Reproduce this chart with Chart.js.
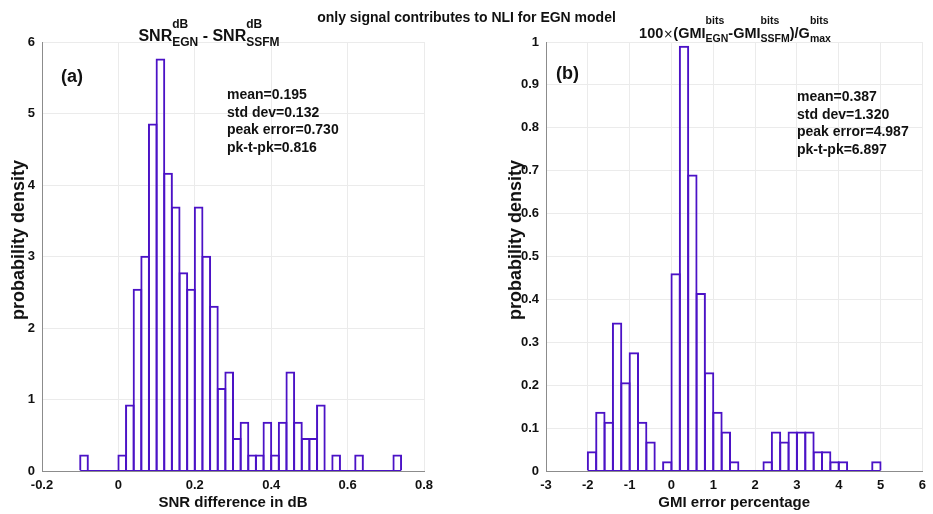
<!DOCTYPE html>
<html>
<head>
<meta charset="utf-8">
<script src="https://cdn.jsdelivr.net/npm/chart.js@4.4.0/dist/chart.umd.min.js"></script>
<style>
html,body{margin:0;padding:0;background:#fff;}
#wrap{position:relative;width:933px;height:514px;overflow:hidden;font-family:"Liberation Sans",Arial,sans-serif;font-weight:bold;color:#111;}
canvas{position:absolute;top:0;}
.t{position:absolute;white-space:nowrap;}
.yl{position:absolute;white-space:nowrap;font-size:18px;line-height:20px;transform:translate(-50%,-50%) rotate(-90deg);}
.st{position:absolute;display:flex;align-items:flex-start;white-space:nowrap;transform:translateX(-50%);}
.m{font-size:16px;line-height:16px;margin-top:10.2px;}
.ss{display:inline-flex;flex-direction:column;font-size:12px;line-height:12px;}
.ss .sb{margin-top:5.7px;}
.r .m{font-size:14.5px;line-height:15px;margin-top:10.5px;}
.r .ss{font-size:10.5px;line-height:11px;}
.r .ss .sb{margin-top:6.5px;}
.x{font-weight:normal;font-family:"DejaVu Sans",sans-serif;font-size:12px;}
.stats{font-size:14px;line-height:17.7px;}
.lab{font-size:18px;line-height:22px;}
</style>
</head>
<body>
<div id="wrap">
  <canvas id="c1" width="470" height="514" style="left:0;width:470px;height:514px"></canvas>
  <canvas id="c2" width="436" height="514" style="left:497px;width:436px;height:514px"></canvas>

  <div class="t" style="left:0;width:933px;top:8px;text-align:center;font-size:14px;line-height:18px;">only signal contributes to NLI for EGN model</div>

  <div class="st" style="left:209px;top:18px;">
    <span class="m">SNR</span><span class="ss"><span>dB</span><span class="sb">EGN</span></span><span class="m">&nbsp;-&nbsp;SNR</span><span class="ss"><span>dB</span><span class="sb">SSFM</span></span>
  </div>
  <div class="st r" style="left:735px;top:15px;">
    <span class="m">100<span class="x">×</span>(GMI</span><span class="ss"><span>bits</span><span class="sb">EGN</span></span><span class="m">-GMI</span><span class="ss"><span>bits</span><span class="sb">SSFM</span></span><span class="m">)/G</span><span class="ss"><span>bits</span><span class="sb">max</span></span>
  </div>

  <div id="yl1" class="yl" style="left:17.5px;top:240px;"></div>
  <div id="yl2" class="yl" style="left:514.5px;top:240px;"></div>

  <div class="t lab" style="left:61px;top:65px;">(a)</div>
  <div class="t lab" style="left:556px;top:62px;">(b)</div>

  <div class="t stats" style="left:227px;top:86px;">mean=0.195<br>std dev=0.132<br>peak error=0.730<br>pk-t-pk=0.816</div>
  <div class="t stats" style="left:797px;top:88px;">mean=0.387<br>std dev=1.320<br>peak error=4.987<br>pk-t-pk=6.897</div>
</div>

<script>
// ---------- data ----------
// left panel: SNR difference histogram, bin centres (dB) and probability density
const snrBinCenters = [-0.09, -0.07, -0.05, -0.03, -0.01, 0.01, 0.03, 0.05, 0.07, 0.09,
  0.11, 0.13, 0.15, 0.17, 0.19, 0.21, 0.23, 0.25, 0.27, 0.29,
  0.31, 0.33, 0.35, 0.37, 0.39, 0.41, 0.43, 0.45, 0.47, 0.49,
  0.51, 0.53, 0.55, 0.57, 0.59, 0.61, 0.63, 0.65, 0.67, 0.69,
  0.71, 0.73];
const snrDensity = [0.23, 0, 0, 0, 0, 0.23, 0.93, 2.55, 3.01, 4.86,
  5.77, 4.17, 3.70, 2.78, 2.55, 3.70, 3.01, 2.31, 1.16, 1.39,
  0.46, 0.69, 0.23, 0.23, 0.69, 0.23, 0.69, 1.39, 0.69, 0.46,
  0.46, 0.93, 0, 0.23, 0, 0, 0.23, 0, 0, 0,
  0, 0.23];
const snrBinWidth = 0.02;

// right panel: GMI error percentage histogram
const gmiBinCenters = [-1.9, -1.7, -1.5, -1.3, -1.1, -0.9, -0.7, -0.5, -0.3, -0.1,
  0.1, 0.3, 0.5, 0.7, 0.9, 1.1, 1.3, 1.5, 1.7, 1.9,
  2.1, 2.3, 2.5, 2.7, 2.9, 3.1, 3.3, 3.5, 3.7, 3.9,
  4.1, 4.3, 4.5, 4.7, 4.9];
const gmiDensity = [0.046, 0.138, 0.115, 0.346, 0.207, 0.277, 0.115, 0.069, 0, 0.023,
  0.461, 0.991, 0.691, 0.415, 0.230, 0.138, 0.092, 0.023, 0, 0,
  0, 0.023, 0.092, 0.069, 0.092, 0.092, 0.092, 0.046, 0.046, 0.023,
  0.023, 0, 0, 0, 0.023];
const gmiBinWidth = 0.2;

// axis ranges / tick steps
const snrXRange = [-0.2, 0.8], snrXStep = 0.2;
const snrYRange = [0, 6], snrYStep = 1;
const gmiXRange = [-3, 6], gmiXStep = 1;
const gmiYRange = [0, 1], gmiYStep = 0.1;

const xTitleLeft = 'SNR difference in dB';
const xTitleRight = 'GMI error percentage';
const yTitle = 'probability density';
document.getElementById('yl1').textContent = yTitle;
document.getElementById('yl2').textContent = yTitle;

// ---------- styling ----------
const BAR = '#4b12c6';
const GRID = '#ebebeb';
const AXIS = '#8c8c8c';
const FONT = '"Liberation Sans", Arial, sans-serif';
const fmt = v => String(Math.round(v * 10) / 10);

function makeChart(id, centers, dens, binW, xr, xs, yr, ys, xTitle, yAxisW, barPct, padRight) {
  const pts = centers.map((c, i) => ({x: c, y: dens[i]}));
  const base = [
    {x: centers[0] - binW / 2, y: 0},
    {x: centers[centers.length - 1] + binW / 2, y: 0}
  ];
  return new Chart(document.getElementById(id), {
    type: 'bar',
    data: {
      datasets: [
        {type: 'line', data: base, borderColor: BAR, borderWidth: 2, pointRadius: 0, fill: false, order: 0},
        {type: 'bar', data: pts, backgroundColor: 'rgba(0,0,0,0)', borderColor: BAR, borderWidth: 2,
         borderSkipped: 'start', barPercentage: barPct, categoryPercentage: 1, order: 1}
      ]
    },
    options: {
      responsive: false, animation: false, devicePixelRatio: 1,
      layout: {padding: {top: 42, left: 0, right: padRight, bottom: 0}},
      plugins: {legend: {display: false}, tooltip: {enabled: false}},
      scales: {
        x: {
          type: 'linear', min: xr[0], max: xr[1], offset: false,
          ticks: {stepSize: xs, padding: 7, color: '#111', font: {family: FONT, size: 13, weight: 'bold'}, callback: fmt, maxRotation: 0},
          grid: {color: GRID, drawTicks: false, offset: false},
          border: {display: true, color: AXIS, width: 1},
          title: {display: true, text: xTitle, color: '#111', padding: {top: 0, bottom: 2}, font: {family: FONT, size: 15, weight: 'bold'}},
          afterFit(s) { s.height = 43; }
        },
        y: {
          type: 'linear', min: yr[0], max: yr[1],
          ticks: {stepSize: ys, padding: 7, color: '#111', font: {family: FONT, size: 13, weight: 'bold'}, callback: fmt},
          grid: {color: GRID, drawTicks: false},
          border: {display: true, color: AXIS, width: 1},
          title: {display: false},
          afterFit(s) { s.width = yAxisW; }
        }
      }
    }
  });
}

makeChart('c1', snrBinCenters, snrDensity, snrBinWidth, snrXRange, snrXStep, snrYRange, snrYStep, xTitleLeft, 42, 1.262, 46);
makeChart('c2', gmiBinCenters, gmiDensity, gmiBinWidth, gmiXRange, gmiXStep, gmiYRange, gmiYStep, xTitleRight, 49, 1.237, 7);
</script>
</body>
</html>
